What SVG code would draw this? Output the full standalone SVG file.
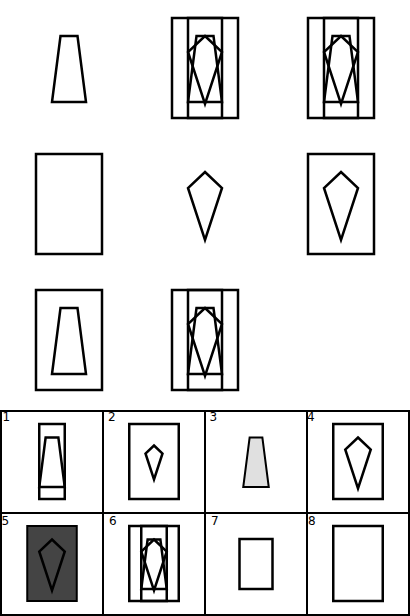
<svg xmlns="http://www.w3.org/2000/svg" xmlns:xlink="http://www.w3.org/1999/xlink" width="410" height="616" viewBox="0 0 410 616">
<style>
.s{fill:none;stroke:#000;stroke-width:2.5;vector-effect:non-scaling-stroke;stroke-linejoin:miter}
.a .s{stroke-width:2}
.grid{fill:none;stroke:#000;stroke-width:2}
.lbl{font-family:"DejaVu Sans",sans-serif;font-size:12px;fill:#000}
</style>
<defs>
<rect id="R" class="s" x="-33" y="-50" width="66" height="100"/>
<rect id="N" class="s" x="-17" y="-50" width="34" height="100"/>
<polygon id="T" class="s" points="-8.5,-32 8.5,-32 17,34 -17,34"/>
<polygon id="K" class="s" points="0,-32 17,-16 0,36 -17,-16"/>
</defs>
<rect width="410" height="616" fill="#fff"/>
<g id="cell1" transform="translate(69,68)"><use xlink:href="#T"/></g>
<g id="cell2" transform="translate(205,68)"><use xlink:href="#R"/><use xlink:href="#N"/><use xlink:href="#T"/><use xlink:href="#K"/></g>
<g id="cell3" transform="translate(341,68)"><use xlink:href="#R"/><use xlink:href="#N"/><use xlink:href="#T"/><use xlink:href="#K"/></g>
<g id="cell4" transform="translate(69,204)"><use xlink:href="#R"/></g>
<g id="cell5" transform="translate(205,204)"><use xlink:href="#K"/></g>
<g id="cell6" transform="translate(341,204)"><use xlink:href="#R"/><use xlink:href="#K"/></g>
<g id="cell7" transform="translate(69,340)"><use xlink:href="#R"/><use xlink:href="#T"/></g>
<g id="cell8" transform="translate(205,340)"><use xlink:href="#R"/><use xlink:href="#N"/><use xlink:href="#T"/><use xlink:href="#K"/></g>
<g id="answers-grid" class="grid">
<rect x="1" y="411" width="408" height="204"/>
<line x1="1" y1="513" x2="409" y2="513"/>
<line x1="103" y1="411" x2="103" y2="615"/>
<line x1="205" y1="411" x2="205" y2="615"/>
<line x1="307" y1="411" x2="307" y2="615"/>
</g>
<g class="a">
<g id="opt1"><text class="lbl" x="2.5" y="421">1</text><g transform="translate(52,461.5) scale(0.75)"><use xlink:href="#N"/><use xlink:href="#T"/></g></g>
<g id="opt2"><text class="lbl" x="108" y="421">2</text><g transform="translate(154,461.5) scale(0.75)"><use xlink:href="#R"/></g><g transform="translate(154,461.5) scale(0.5)"><use xlink:href="#K"/></g></g>
<g id="opt3"><text class="lbl" x="209.5" y="421">3</text><g transform="translate(256,461.5) scale(0.75)"><polygon class="s" style="fill:#e0e0e0" points="-8.5,-32 8.5,-32 17,34 -17,34"/></g></g>
<g id="opt4"><text class="lbl" x="307" y="421">4</text><g transform="translate(358,461.5) scale(0.75)"><use xlink:href="#R"/><use xlink:href="#K"/></g></g>
<g id="opt5"><text class="lbl" x="1.5" y="525">5</text><g transform="translate(52,563.5) scale(0.75)"><rect class="s" style="fill:#444" x="-33" y="-50" width="66" height="100"/><use xlink:href="#K"/></g></g>
<g id="opt6"><text class="lbl" x="109" y="525">6</text><g transform="translate(154,563.5) scale(0.75)"><use xlink:href="#R"/><use xlink:href="#N"/><use xlink:href="#T"/><use xlink:href="#K"/></g></g>
<g id="opt7"><text class="lbl" x="211" y="525">7</text><g transform="translate(256,564) scale(0.5)"><use xlink:href="#R"/></g></g>
<g id="opt8"><text class="lbl" x="308" y="525">8</text><g transform="translate(358,563.5) scale(0.75)"><use xlink:href="#R"/></g></g>
</g>
</svg>
